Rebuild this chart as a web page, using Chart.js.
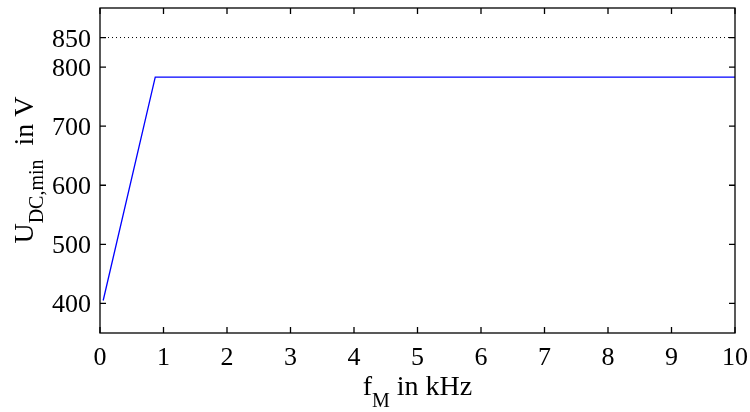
<!DOCTYPE html>
<html>
<head>
<meta charset="utf-8">
<script src="https://cdn.jsdelivr.net/npm/chart.js@4"></script>
<style>
  html, body { margin: 0; padding: 0; background: #fff; }
  #wrap { width: 750px; height: 412px; }
</style>
</head>
<body>
<div id="wrap"><canvas id="chart" width="750" height="412"></canvas></div>
<script>
// data
const freqKHz = [0.05, 0.87, 10]
const uDcMin = [405, 783, 783]
const limitFreq = [0, 10]
const limitVolt = [850, 850]
const xTicks = [0, 1, 2, 3, 4, 5, 6, 7, 8, 9, 10]
const yTicks = [400, 500, 600, 700, 800, 850]

const serif = '"Liberation Serif", "Times New Roman", serif'

// box, inward ticks, tick labels and axis titles with subscripts
const framePlugin = {
    id: 'frame',
    afterDraw(chart) {
        const ctx = chart.ctx
        const a = chart.chartArea
        const xs = chart.scales.x
        const ys = chart.scales.y
        const len = 6
        ctx.save()
        ctx.strokeStyle = '#000'
        ctx.lineWidth = 1.3
        ctx.beginPath()
        xTicks.forEach(v => {
            const px = xs.getPixelForValue(v)
            ctx.moveTo(px, a.bottom); ctx.lineTo(px, a.bottom - len)
            ctx.moveTo(px, a.top); ctx.lineTo(px, a.top + len)
        })
        yTicks.forEach(v => {
            const py = ys.getPixelForValue(v)
            ctx.moveTo(a.left, py); ctx.lineTo(a.left + len, py)
            ctx.moveTo(a.right, py); ctx.lineTo(a.right - len, py)
        })
        ctx.stroke()
        ctx.strokeRect(a.left, a.top, a.right - a.left, a.bottom - a.top)

        ctx.fillStyle = '#000'
        ctx.textBaseline = 'alphabetic'
        ctx.font = '26px ' + serif

        // tick labels
        ctx.textAlign = 'center'
        xTicks.forEach(v => {
            ctx.fillText(String(v), xs.getPixelForValue(v), a.bottom + 32)
        })
        ctx.textAlign = 'right'
        yTicks.forEach(v => {
            ctx.fillText(String(v), a.left - 9, ys.getPixelForValue(v) + 9)
        })

        ctx.textAlign = 'left'
        const big = '28px ' + serif
        const small = '20px ' + serif

        // x title: f_M in kHz
        ctx.font = big
        const wf = ctx.measureText('f').width
        const wRest = ctx.measureText(' in kHz').width
        ctx.font = small
        const wM = ctx.measureText('M').width
        let x0 = (a.left + a.right) / 2 - (wf + wM + wRest) / 2
        const by = 395
        ctx.font = big
        ctx.fillText('f', x0, by)
        ctx.font = small
        ctx.fillText('M', x0 + wf, by + 12)
        ctx.font = big
        ctx.fillText(' in kHz', x0 + wf + wM, by)

        // y title: U_DC,min in V
        ctx.translate(33, 170)
        ctx.rotate(-Math.PI / 2)
        ctx.font = big
        const wU = ctx.measureText('U').width
        const wV = ctx.measureText('  in V').width
        ctx.font = small
        const wSub = ctx.measureText('DC,min').width
        x0 = -(wU + wSub + wV) / 2
        ctx.font = big
        ctx.fillText('U', x0, 0)
        ctx.font = small
        ctx.fillText('DC,min', x0 + wU, 10)
        ctx.font = big
        ctx.fillText('  in V', x0 + wU + wSub, 0)
        ctx.restore()
    }
}

new Chart(document.getElementById('chart'), {
    type: 'line',
    data: {
        datasets: [
            {
                label: 'UDC,min',
                data: freqKHz.map((f, i) => ({ x: f, y: uDcMin[i] })),
                borderColor: '#0000ff',
                borderWidth: 1.3,
                pointRadius: 0,
                tension: 0
            },
            {
                label: 'limit',
                data: limitFreq.map((f, i) => ({ x: f, y: limitVolt[i] })),
                borderColor: '#000',
                borderWidth: 1,
                borderDash: [1, 3],
                pointRadius: 0
            }
        ]
    },
    options: {
        responsive: false,
        animation: false,
        layout: { padding: { top: 8, right: 15, left: 0, bottom: 0 } },
        plugins: {
            legend: { display: false },
            tooltip: { enabled: false }
        },
        scales: {
            x: {
                type: 'linear',
                min: 0,
                max: 10,
                afterFit: s => { s.height = 79 },
                grid: { display: false, drawTicks: false },
                border: { display: false },
                ticks: { display: false }
            },
            y: {
                type: 'linear',
                min: 350,
                max: 900,
                afterFit: s => { s.width = 100 },
                grid: { display: false, drawTicks: false },
                border: { display: false },
                ticks: { display: false }
            }
        }
    },
    plugins: [framePlugin]
})
</script>
</body>
</html>
